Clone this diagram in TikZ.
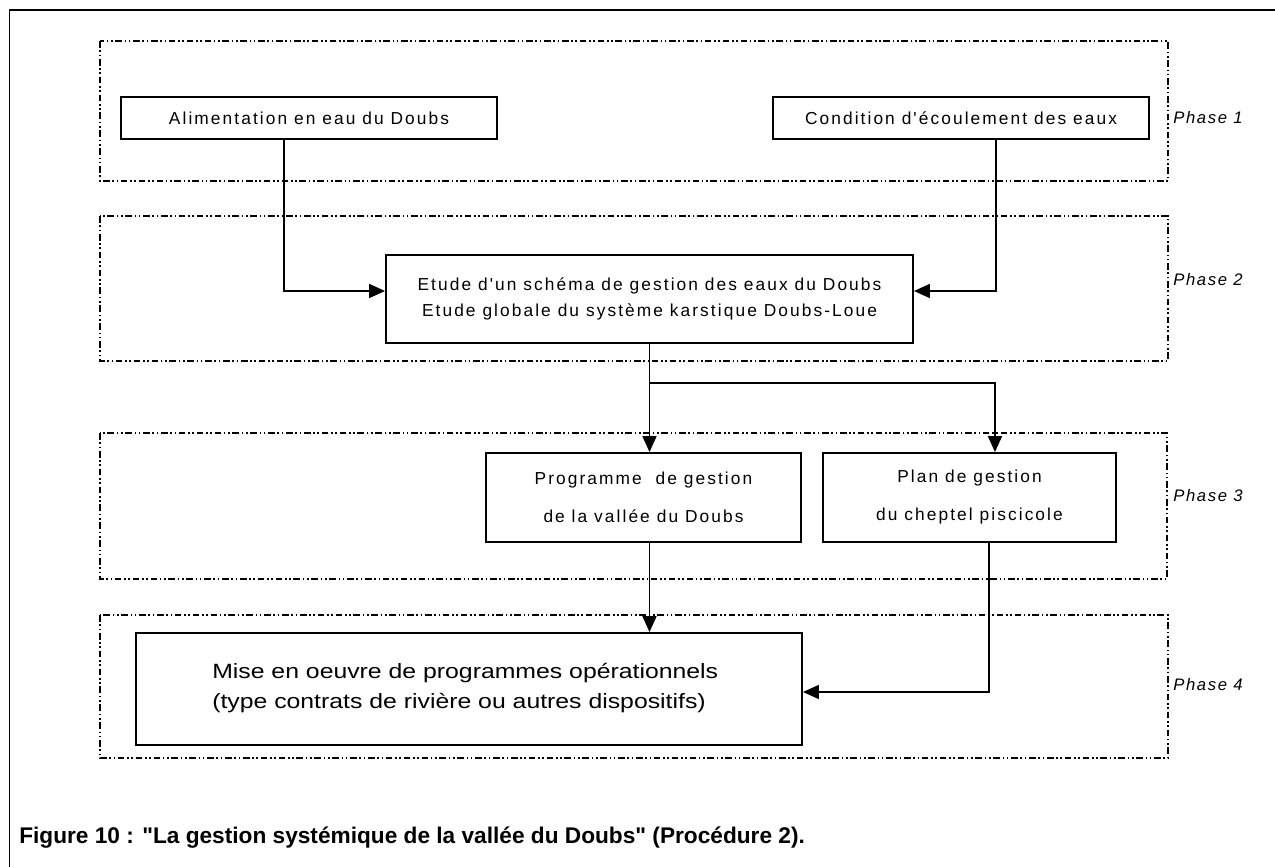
\documentclass[tikz,border=0pt]{standalone}
\usepackage{fontspec}
\setmainfont{Liberation Sans}
\usetikzlibrary{arrows.meta,calc}
\newfontfamily\bmfont{Liberation Sans}[LetterSpace=12]
\newfontfamily\widefont{Liberation Sans}[FakeStretch=1.2]
\newfontfamily\phfont{Liberation Sans}[LetterSpace=10]
\newcommand{\sqdq}{\XeTeXglyph\numexpr\XeTeXcharglyph"22\relax}
\tikzset{
  phasebox/.style={line width=0.9pt, dash pattern=on 5pt off 2pt on 1.2pt off 2pt on 1.2pt off 2pt},
  stepbox/.style={draw, line width=1.4pt, rectangle, inner sep=0pt, font=\bmfont\fontsize{13}{20}\selectfont, align=center},
  arr/.style={line width=1.3pt, -{Triangle[length=12pt,width=10.5pt]}},
  phaselbl/.style={anchor=west, inner sep=0pt, font=\phfont\itshape\fontsize{12.5}{14}\selectfont},
}
\begin{document}
\begin{tikzpicture}[x=0.75pt,y=-0.75pt]
\useasboundingbox (0,0) rectangle (1275,867);
% outer frame (left and top edges only visible)
\draw[line width=1.4pt] (9.5,867) -- (9.5,10) -- (1275,10);
% phase boxes
\draw[phasebox] (100,41) rectangle (1168,181);
\draw[phasebox] (100,216) rectangle (1168,361);
\draw[phasebox] (100,433) rectangle (1167,579);
\draw[phasebox] (100,615) rectangle (1168,758);
\node[phaselbl] (p1) at (1173,118) {Phase 1};
\node[phaselbl] (p2) at (1173,280) {Phase 2};
\node[phaselbl] (p3) at (1173,496) {Phase 3};
\node[phaselbl] (p4) at (1173,685) {Phase 4};
% boxes
\node[stepbox, minimum width=282pt, minimum height=31.5pt] (A) at (309,118) {Alimentation en eau du Doubs};
\node[stepbox, minimum width=282pt, minimum height=31.5pt] (B) at (961,118) {Condition d'écoulement des eaux};
\node[stepbox, minimum width=395.25pt, minimum height=66pt] (C) at (649.5,299) {Etude d'un schéma de gestion des eaux du Doubs\\Etude globale du système karstique Doubs-Loue};
\node[stepbox, minimum width=236.25pt, minimum height=66.75pt, font=\bmfont\fontsize{13}{28.5}\selectfont] (D) at (643.5,497.5) {Programme\ \ de gestion\\de la vallée du Doubs};
\node[stepbox, minimum width=219.75pt, minimum height=66.75pt, font=\bmfont\fontsize{13}{28.5}\selectfont] (E) at (969.5,497.5) {Plan de gestion\\du cheptel piscicole};
\node[draw, line width=1.4pt, minimum width=499.5pt, minimum height=84pt, inner sep=0pt] (F) at (469,689) {};
\node[anchor=west, align=left, inner sep=0pt, font=\widefont\fontsize{15.5}{23}\selectfont] (Ft) at (212,688) {Mise en oeuvre de programmes opérationnels\\(type contrats de rivière ou autres dispositifs)};
% connectors
\draw[arr] ([xshift=-18.75pt]A.south) |- ([yshift=6pt]C.west);
\draw[arr] ([xshift=26.25pt]B.south) |- ([yshift=6pt]C.east);
\draw[arr] (C.south) -- (C.south |- D.north);
\coordinate (j) at ($(C.south)+(0,39)$);
\draw[arr] (j) -| ([xshift=19.1pt]E.north);
\draw[arr] (C.south |- D.south) -- (C.south |- F.north);
\draw[arr] ([xshift=14.6pt]E.south) |- ([yshift=-2.25pt]F.east);
% caption
\node[anchor=base west, inner sep=0pt, font=\bfseries\fontsize{17}{20}\selectfont] (cap) at (19,843) {Figure 10 : \sqdq La gestion systémique de la vallée du Doubs\sqdq\ (Procédure 2).};
\end{tikzpicture}
\end{document}
